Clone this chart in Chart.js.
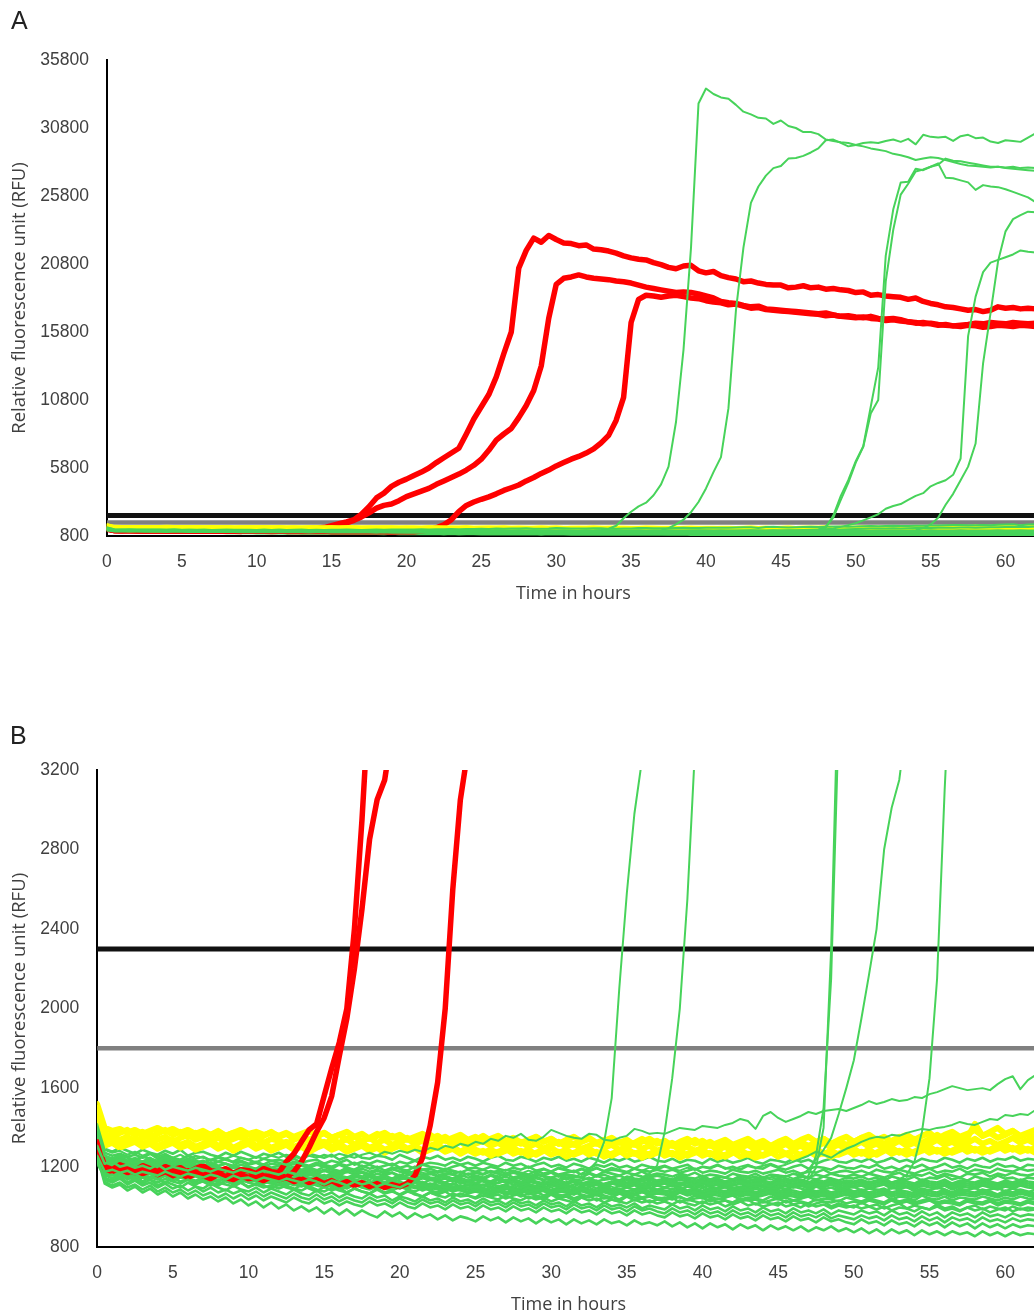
<!DOCTYPE html>
<html><head><meta charset="utf-8">
<script src="https://cdn.jsdelivr.net/npm/chart.js@4/dist/chart.umd.min.js"></script>
<style>
html,body{margin:0;padding:0;background:#fff;overflow:hidden;width:1034px;height:1316px;position:relative;}
canvas{position:absolute;left:0;}
.lbl{position:absolute;font-family:"Liberation Sans",Arial,sans-serif;font-size:25px;color:#222;line-height:1;}
</style></head><body>
<canvas id="cA" width="1050" height="610" style="top:0px"></canvas>
<canvas id="cB" width="1050" height="616" style="top:700px"></canvas>
<div class="lbl" style="left:11px;top:8px">A</div>
<div class="lbl" style="left:10px;top:723px">B</div>
<script>
// ---- time axis (hours) ----
const hours = [0,0.5,1,1.5,2,2.5,3,3.5,4,4.5,5,5.5,6,6.5,7,7.5,8,8.5,9,9.5,10,10.5,11,11.5,12,
12.5,13,13.5,14,14.5,15,15.5,16,16.5,17,17.5,18,18.5,19,19.5,20,20.5,21,21.5,22,22.5,23,23.5,24,24.5,
25,25.5,26,26.5,27,27.5,28,28.5,29,29.5,30,30.5,31,31.5,32,32.5,33,33.5,34,34.5,35,35.5,36,36.5,37,
37.5,38,38.5,39,39.5,40,40.5,41,41.5,42,42.5,43,43.5,44,44.5,45,45.5,46,46.5,47,47.5,48,48.5,49,49.5,
50,50.5,51,51.5,52,52.5,53,53.5,54,54.5,55,55.5,56,56.5,57,57.5,58,58.5,59,59.5,60,60.5,61,61.5,62];

// ---- thresholds ----
const thresholdBlack = 2300;
const thresholdGray = 1800;

// ---- red series ----
const red1 = [1330,1205,1190,1215,1200,1185,1210,1195,1180,1205,1190,1200,1175,1195,1210,1185,1180,1195,1170,1190,1185,1170,1195,1180,1175,
1230,1270,1330,1390,1420,1560,1700,1830,2000,2400,2950,3600,3950,4450,4750,4980,5250,5500,5800,6200,6550,6900,7250,8300,9400,
10300,11200,12500,14200,15800,20500,21800,22700,22400,22900,22600,22350,22300,22150,22200,21900,21850,21750,21600,21400,21250,21150,21100,20900,20750,
20550,20450,20650,20700,20300,20150,20250,19950,19800,19700,19500,19550,19400,19300,19250,19250,19050,19100,19200,19050,19100,18950,19000,18900,18850,
18700,18750,18500,18550,18450,18400,18350,18200,18300,18050,17900,17800,17650,17600,17500,17400,17450,17300,17400,17650,17550,17600,17500,17550,17500];
const red2 = [1300,1195,1180,1200,1190,1175,1195,1185,1170,1190,1180,1165,1185,1175,1160,1180,1170,1155,1175,1165,1150,1170,1160,1155,1165,
1150,1180,1230,1300,1380,1450,1560,1760,1950,2200,2500,2850,3050,3150,3400,3700,3900,4100,4300,4600,4850,5100,5350,5650,6000,
6450,7100,7850,8300,8700,9500,10400,11500,13300,16800,19300,19750,19850,20000,19850,19750,19700,19650,19550,19500,19400,19250,19100,19000,18900,
18800,18700,18750,18700,18600,18450,18300,18050,17950,17900,17750,17650,17700,17500,17450,17400,17350,17300,17250,17200,17150,17200,17050,16950,17000,
16900,16850,16950,16800,16750,16800,16700,16550,16450,16500,16400,16300,16350,16250,16300,16350,16450,16400,16500,16450,16400,16500,16450,16400,16450];
const red3 = [1320,1200,1185,1195,1175,1190,1170,1185,1165,1180,1160,1175,1150,1170,1160,1145,1165,1150,1140,1160,1145,1150,1135,1155,1140,
1150,1130,1145,1125,1140,1120,1135,1115,1130,1110,1125,1105,1120,1100,1115,1105,1120,1160,1250,1410,1630,2000,2600,3050,3300,
3500,3680,3900,4150,4350,4550,4850,5100,5400,5650,5950,6200,6450,6650,6900,7200,7650,8200,9300,11000,16500,18200,18500,18450,18350,
18450,18500,18400,18300,18250,18100,18000,17950,17800,17850,17700,17550,17600,17450,17400,17350,17300,17250,17200,17150,17100,17000,17050,16950,16900,
16850,16900,16800,16750,16650,16700,16600,16550,16500,16400,16450,16350,16300,16250,16200,16300,16250,16150,16200,16300,16250,16200,16300,16250,16200];

// ---- yellow series ----
const yellow1 = [1520,1400,1385,1395,1375,1390,1370,1385,1400,1380,1395,1375,1390,1370,1385,1365,1380,1360,1375,1390,1370,1380,1365,1375,1360,
1375,1355,1370,1385,1360,1375,1350,1365,1380,1355,1370,1345,1360,1375,1350,1365,1340,1355,1370,1345,1360,1335,1350,1365,1340,
1355,1330,1345,1360,1335,1350,1325,1340,1355,1330,1345,1320,1340,1355,1330,1345,1320,1335,1350,1325,1340,1315,1330,1345,1320,
1335,1310,1330,1345,1320,1335,1310,1325,1340,1315,1330,1345,1320,1335,1310,1330,1345,1320,1340,1355,1330,1345,1320,1340,1355,
1330,1350,1365,1340,1355,1330,1350,1365,1340,1360,1375,1345,1365,1380,1355,1370,1390,1360,1380,1400,1370,1385,1360,1375,1390];
const yellow2 = [1480,1345,1360,1340,1355,1335,1350,1365,1340,1355,1330,1350,1365,1340,1355,1335,1350,1330,1345,1360,1335,1350,1325,1345,1335,
1320,1340,1355,1330,1345,1320,1340,1325,1345,1315,1335,1350,1325,1340,1315,1330,1345,1320,1335,1310,1325,1340,1315,1330,1305,
1320,1335,1310,1325,1300,1315,1330,1305,1320,1295,1315,1330,1305,1320,1295,1310,1325,1300,1315,1290,1305,1320,1295,1310,1285,
1300,1315,1290,1305,1285,1300,1315,1290,1305,1280,1300,1315,1290,1305,1285,1300,1320,1295,1310,1290,1305,1325,1300,1315,1295,
1310,1330,1305,1320,1300,1315,1335,1310,1325,1305,1320,1340,1315,1330,1310,1325,1345,1320,1335,1315,1330,1350,1325,1340,1320];
const yellow3 = [1450,1320,1335,1315,1330,1345,1320,1335,1310,1325,1340,1315,1330,1305,1320,1335,1310,1325,1300,1320,1335,1310,1325,1300,1315,
1330,1305,1320,1295,1315,1330,1305,1320,1295,1310,1325,1300,1315,1290,1305,1320,1295,1310,1285,1300,1315,1290,1305,1280,1300,
1290,1275,1290,1270,1285,1300,1275,1290,1265,1285,1300,1275,1290,1265,1280,1295,1270,1285,1260,1280,1295,1270,1285,1260,1275,
1290,1265,1280,1260,1275,1290,1265,1280,1255,1275,1290,1265,1280,1260,1275,1290,1270,1285,1260,1280,1295,1270,1285,1265,1280,
1295,1270,1290,1265,1285,1300,1275,1290,1270,1285,1305,1280,1295,1275,1290,1310,1285,1300,1280,1295,1315,1290,1305,1285,1300];
const yellow4 = [1500,1370,1355,1375,1390,1365,1380,1355,1370,1390,1365,1380,1355,1375,1350,1365,1385,1360,1375,1350,1370,1345,1360,1380,1355,
1370,1345,1360,1340,1355,1375,1350,1365,1340,1355,1335,1350,1370,1345,1360,1335,1350,1330,1345,1365,1340,1355,1330,1345,1325,
1340,1360,1335,1350,1325,1340,1320,1335,1355,1330,1345,1320,1335,1315,1330,1350,1325,1340,1315,1330,1310,1325,1345,1320,1335,
1310,1325,1305,1320,1340,1315,1330,1305,1320,1300,1315,1335,1310,1325,1300,1320,1340,1315,1330,1310,1325,1345,1320,1335,1315,
1330,1350,1325,1340,1320,1335,1355,1330,1345,1325,1345,1365,1340,1355,1335,1350,1420,1360,1375,1350,1365,1385,1355,1370,1350];
const yellow5 = [1420,1310,1325,1300,1315,1330,1305,1320,1295,1310,1325,1300,1315,1290,1305,1320,1295,1310,1285,1305,1320,1295,1310,1285,1300,
1315,1290,1305,1280,1300,1315,1290,1305,1280,1295,1310,1285,1300,1275,1295,1310,1285,1300,1275,1290,1305,1280,1295,1270,1290,
1270,1285,1260,1280,1295,1270,1285,1260,1275,1290,1265,1280,1255,1275,1290,1265,1280,1255,1270,1285,1260,1275,1250,1270,1285,
1260,1275,1250,1270,1285,1260,1275,1250,1265,1280,1255,1270,1250,1265,1280,1255,1270,1250,1265,1285,1260,1275,1255,1270,1290,
1265,1280,1260,1275,1295,1270,1285,1265,1280,1300,1275,1290,1270,1285,1305,1280,1295,1275,1290,1310,1285,1300,1280,1295,1275];

// ---- green positive / rising series ----
const greenPos1 = [1380,1250,1235,1240,1225,1230,1215,1225,1210,1220,1205,1215,1200,1210,1190,1205,1195,1185,1200,1180,1190,1175,1185,1170,1180,
1165,1180,1160,1170,1155,1165,1150,1160,1145,1155,1150,1140,1155,1145,1135,1150,1140,1130,1145,1135,1140,1125,1140,1130,1135,
1125,1140,1130,1120,1135,1125,1140,1130,1145,1135,1150,1140,1160,1150,1170,1190,1230,1330,1550,2100,2580,2980,3250,3800,4600,
5900,9200,14500,22000,32600,33700,33300,33050,32950,32500,32000,31800,31550,31500,31100,31350,30950,30800,30500,30500,30350,29950,29850,29750,29700,
29550,29450,29300,29200,29100,28900,28800,28650,28450,28550,28650,28600,28450,28300,28150,28050,28000,27950,27900,27950,27850,27800,27750,27700,27650];
const greenPos2 = [1350,1230,1215,1225,1205,1215,1195,1210,1190,1200,1185,1195,1175,1190,1170,1180,1165,1175,1160,1170,1155,1165,1150,1160,1145,
1155,1140,1150,1135,1145,1130,1140,1125,1135,1120,1130,1115,1130,1120,1110,1125,1115,1105,1120,1110,1100,1115,1105,1110,1100,
1110,1100,1115,1105,1095,1110,1100,1115,1105,1095,1110,1100,1115,1105,1120,1110,1125,1115,1130,1120,1135,1130,1150,1170,1210,
1380,1650,2000,2550,3300,4300,5500,6600,10200,17400,22000,25300,26500,27300,27850,28000,28550,28600,28750,29000,29300,29900,29950,29700,29450,
29550,29700,29750,29700,29850,29950,29780,30000,29600,30300,30150,30100,30150,29850,30200,30300,30050,30100,29800,29700,29900,29850,29780,30100,30400];
const greenPos3 = [1330,1215,1200,1210,1190,1200,1180,1195,1175,1185,1165,1180,1160,1170,1155,1165,1150,1160,1145,1155,1140,1150,1135,1145,1140,
1130,1145,1125,1135,1120,1130,1115,1125,1110,1120,1105,1115,1100,1110,1095,1105,1115,1100,1090,1105,1095,1085,1100,1090,1080,
1095,1085,1075,1090,1080,1070,1085,1075,1090,1080,1070,1085,1075,1065,1080,1070,1085,1075,1065,1080,1070,1060,1075,1065,1080,
1070,1060,1075,1065,1080,1070,1060,1075,1085,1070,1090,1080,1095,1085,1100,1090,1110,1100,1120,1140,1200,1400,2300,3750,4900,
6300,7400,10300,13200,21400,24800,26800,26850,27800,27700,27950,28200,27150,27100,26950,26800,26250,26600,26500,26450,26300,26100,25900,25700,25350];
const greenPos4 = [1360,1240,1225,1230,1215,1225,1205,1215,1200,1210,1190,1200,1185,1195,1175,1190,1170,1180,1165,1175,1160,1170,1155,1165,1150,
1160,1145,1155,1140,1150,1135,1145,1130,1140,1125,1135,1120,1130,1115,1125,1110,1120,1105,1115,1100,1110,1095,1105,1090,1100,
1085,1095,1080,1090,1075,1085,1095,1080,1070,1085,1075,1090,1080,1070,1085,1075,1065,1080,1070,1085,1075,1065,1080,1070,1085,
1075,1090,1080,1070,1085,1095,1080,1090,1100,1085,1095,1105,1090,1100,1110,1100,1115,1105,1125,1160,1260,1500,2150,3450,4700,
6200,7350,9800,10800,19500,23300,25900,26700,27600,27750,27950,28100,28550,28400,28350,28250,28150,28050,27950,27950,27900,27950,27850,27900,27850];
const greenPos5 = [1340,1225,1210,1220,1200,1210,1190,1205,1185,1195,1175,1190,1170,1180,1165,1175,1160,1170,1155,1165,1150,1160,1145,1155,1140,
1150,1135,1145,1130,1140,1125,1135,1120,1130,1140,1125,1135,1120,1130,1115,1125,1110,1120,1130,1115,1125,1110,1120,1105,1115,
1125,1110,1120,1105,1115,1125,1110,1120,1105,1115,1125,1110,1120,1130,1115,1125,1110,1120,1130,1115,1125,1135,1120,1130,1115,
1125,1135,1120,1130,1140,1125,1135,1145,1130,1140,1150,1135,1145,1155,1140,1150,1160,1145,1160,1190,1240,1290,1350,1470,1600,
1740,1950,2170,2400,2800,3010,3150,3450,3750,3950,4450,4700,4900,5300,6500,15500,18400,20200,20900,21100,21300,21500,21800,21700,21650];
const greenPos6 = [1300,1200,1185,1195,1175,1185,1165,1180,1160,1170,1150,1165,1145,1155,1140,1150,1135,1145,1130,1140,1125,1135,1120,1130,1115,
1125,1110,1120,1105,1115,1100,1110,1095,1105,1115,1100,1110,1095,1105,1090,1100,1110,1095,1105,1090,1100,1085,1095,1105,1090,
1100,1085,1095,1080,1090,1100,1085,1095,1080,1090,1100,1085,1095,1105,1090,1100,1085,1095,1105,1090,1100,1110,1095,1105,1090,
1100,1110,1095,1105,1115,1100,1110,1095,1105,1115,1100,1110,1120,1105,1115,1100,1110,1120,1105,1115,1125,1110,1120,1130,1115,
1125,1135,1120,1130,1140,1125,1140,1165,1230,1380,1650,2150,3100,3900,4900,5900,7600,13500,17200,21000,23200,24100,24400,24650,24600];
const greenSlow1 = [1420,1290,1275,1285,1265,1280,1260,1275,1255,1270,1250,1265,1245,1260,1250,1240,1255,1245,1260,1250,1240,1255,1245,1260,1250,
1265,1255,1245,1260,1250,1265,1255,1270,1260,1250,1265,1275,1260,1280,1270,1285,1275,1290,1280,1300,1290,1310,1300,1320,1310,
1330,1320,1345,1335,1360,1350,1370,1340,1335,1355,1390,1375,1360,1350,1345,1370,1365,1340,1335,1350,1360,1395,1385,1370,1375,
1370,1385,1400,1395,1390,1410,1405,1400,1415,1425,1445,1435,1395,1460,1480,1450,1430,1445,1460,1480,1470,1485,1490,1495,1485,
1500,1515,1535,1520,1530,1545,1535,1540,1555,1550,1570,1580,1595,1610,1600,1590,1595,1600,1590,1620,1645,1660,1595,1640,1665];
const greenSlow2 = [1380,1260,1245,1255,1235,1250,1230,1245,1225,1240,1220,1235,1215,1230,1210,1225,1205,1220,1200,1215,1205,1195,1210,1200,1190,
1205,1195,1185,1200,1190,1180,1195,1185,1175,1190,1180,1170,1185,1175,1190,1180,1170,1185,1175,1165,1180,1170,1185,1175,1165,
1180,1170,1185,1175,1190,1180,1170,1185,1175,1190,1180,1195,1185,1175,1190,1180,1195,1185,1200,1190,1180,1195,1185,1200,1190,
1205,1195,1185,1200,1190,1205,1195,1210,1200,1190,1205,1215,1200,1210,1220,1205,1215,1230,1245,1260,1280,1265,1250,1275,1295,
1310,1330,1345,1355,1350,1365,1360,1375,1385,1395,1390,1400,1405,1415,1430,1420,1415,1430,1445,1440,1465,1460,1470,1465,1490];

// ---- green negative series ----
const neg01 = [1450,1295,1280,1300,1285,1270,1290,1275,1265,1285,1270,1290,1260,1275,1280,1265,1255,1275,1260,1280,1265,1250,1270,1260,1275,
1255,1265,1245,1270,1260,1250,1265,1240,1255,1270,1250,1245,1260,1255,1240,1265,1250,1235,1255,1245,1260,1240,1250,1235,1255,
1245,1230,1250,1260,1240,1235,1255,1245,1230,1250,1240,1255,1235,1245,1230,1250,1240,1225,1245,1235,1250,1230,1240,1255,1235,
1230,1245,1225,1240,1235,1220,1245,1230,1240,1225,1235,1250,1230,1220,1240,1235,1225,1245,1230,1240,1220,1235,1245,1230,1225,
1240,1230,1245,1225,1235,1250,1230,1240,1225,1245,1235,1230,1250,1240,1225,1245,1235,1250,1230,1245,1240,1255,1235,1245,1240];
const neg02 = [1420,1275,1260,1270,1255,1265,1250,1270,1245,1260,1250,1240,1260,1245,1255,1235,1250,1240,1230,1250,1240,1225,1245,1235,1240,
1230,1245,1225,1235,1240,1220,1235,1225,1240,1215,1230,1220,1235,1225,1210,1230,1220,1235,1215,1225,1220,1210,1230,1215,1225,
1210,1225,1215,1205,1225,1210,1220,1200,1215,1225,1205,1215,1200,1220,1210,1195,1215,1205,1220,1200,1210,1195,1215,1205,1200,
1210,1195,1205,1215,1190,1205,1200,1215,1195,1205,1190,1210,1200,1195,1215,1200,1190,1205,1215,1195,1205,1200,1190,1210,1200,
1195,1210,1200,1215,1195,1205,1190,1210,1200,1215,1195,1205,1220,1200,1210,1195,1215,1205,1200,1220,1205,1210,1195,1215,1210];
const neg03 = [1400,1260,1245,1265,1250,1240,1255,1245,1235,1250,1240,1230,1245,1235,1225,1240,1230,1245,1225,1235,1220,1230,1215,1235,1225,
1215,1230,1220,1210,1225,1215,1205,1220,1210,1225,1205,1215,1200,1210,1220,1200,1210,1195,1215,1205,1200,1190,1205,1215,1195,
1200,1190,1205,1195,1185,1200,1190,1205,1185,1195,1180,1200,1190,1180,1195,1185,1200,1180,1190,1185,1175,1195,1185,1180,1190,
1180,1190,1175,1185,1195,1175,1185,1180,1170,1190,1180,1175,1185,1170,1180,1190,1175,1185,1170,1180,1175,1190,1170,1180,1185,
1175,1185,1170,1190,1180,1175,1190,1180,1170,1185,1195,1175,1185,1180,1195,1175,1190,1185,1175,1195,1185,1180,1195,1185,1190];
const neg04 = [1380,1250,1240,1255,1235,1245,1230,1250,1225,1240,1230,1220,1240,1225,1235,1215,1230,1220,1210,1230,1215,1225,1205,1220,1215,
1205,1220,1210,1200,1215,1205,1195,1215,1200,1190,1210,1195,1205,1185,1200,1195,1185,1205,1190,1195,1180,1195,1185,1175,1190,
1180,1190,1175,1185,1170,1185,1175,1165,1185,1170,1180,1165,1175,1185,1165,1175,1160,1180,1170,1160,1175,1165,1180,1160,1170,
1165,1155,1170,1160,1175,1155,1165,1160,1150,1170,1160,1155,1170,1150,1165,1160,1155,1170,1160,1150,1165,1155,1170,1160,1155,
1165,1155,1170,1160,1150,1165,1175,1155,1165,1160,1175,1155,1170,1160,1150,1170,1165,1175,1155,1170,1160,1175,1165,1160,1170];
const neg05 = [1360,1240,1230,1245,1225,1235,1220,1240,1215,1230,1220,1210,1230,1215,1205,1225,1210,1220,1200,1215,1205,1195,1215,1200,1210,
1195,1205,1190,1200,1185,1205,1190,1180,1200,1185,1195,1180,1190,1175,1195,1180,1185,1170,1190,1180,1175,1185,1170,1180,1165,
1175,1165,1180,1170,1160,1175,1165,1155,1170,1160,1175,1155,1165,1160,1150,1170,1155,1165,1150,1160,1145,1165,1155,1150,1160,
1150,1140,1160,1150,1145,1160,1140,1155,1150,1140,1160,1145,1155,1140,1150,1160,1145,1135,1155,1150,1140,1155,1145,1135,1150,
1145,1155,1140,1150,1135,1155,1145,1140,1155,1135,1150,1145,1160,1140,1150,1135,1155,1145,1140,1160,1145,1150,1135,1150,1145];
const neg06 = [1340,1235,1220,1230,1215,1225,1210,1230,1205,1220,1210,1200,1220,1205,1195,1215,1200,1190,1210,1195,1200,1185,1205,1190,1195,
1185,1195,1180,1190,1175,1190,1180,1170,1190,1175,1180,1165,1185,1170,1175,1160,1180,1170,1165,1175,1160,1170,1165,1155,1170,
1160,1150,1165,1155,1170,1150,1160,1145,1165,1155,1150,1160,1140,1155,1150,1140,1160,1145,1150,1135,1155,1145,1140,1150,1135,
1145,1135,1150,1140,1130,1150,1135,1145,1130,1140,1150,1130,1140,1135,1125,1145,1135,1130,1140,1125,1140,1130,1145,1125,1135,
1130,1140,1125,1135,1145,1125,1135,1130,1120,1140,1130,1125,1140,1120,1135,1130,1125,1140,1130,1120,1135,1125,1140,1130,1125];
const neg07 = [1320,1225,1210,1220,1205,1215,1200,1220,1195,1210,1200,1190,1210,1195,1185,1205,1190,1180,1200,1185,1190,1175,1195,1180,1185,
1175,1190,1170,1180,1165,1185,1170,1160,1180,1165,1175,1155,1170,1160,1175,1150,1165,1160,1150,1170,1155,1160,1145,1165,1150,
1155,1140,1160,1145,1155,1140,1150,1135,1155,1140,1145,1130,1150,1140,1135,1150,1130,1140,1145,1125,1145,1135,1130,1140,1125,
1135,1125,1140,1130,1120,1140,1125,1135,1120,1130,1140,1120,1130,1125,1115,1135,1125,1120,1130,1115,1130,1120,1135,1115,1125,
1120,1130,1115,1125,1135,1115,1125,1120,1110,1130,1120,1115,1130,1110,1125,1120,1115,1130,1120,1110,1125,1115,1130,1120,1115];
const neg08 = [1310,1220,1230,1205,1215,1200,1210,1195,1215,1190,1205,1195,1185,1200,1190,1180,1195,1185,1175,1190,1180,1170,1185,1175,1165,
1180,1170,1160,1175,1165,1155,1170,1160,1150,1165,1155,1170,1150,1160,1145,1165,1150,1140,1160,1150,1145,1155,1140,1150,1135,
1150,1140,1130,1150,1135,1145,1125,1140,1130,1120,1140,1130,1125,1140,1120,1130,1135,1115,1130,1125,1120,1135,1115,1125,1120,
1130,1115,1125,1120,1110,1130,1115,1125,1110,1120,1130,1110,1120,1115,1105,1125,1115,1110,1120,1105,1120,1110,1125,1105,1115,
1110,1120,1105,1115,1125,1105,1115,1110,1100,1120,1110,1105,1120,1100,1115,1110,1105,1120,1110,1100,1115,1105,1120,1110,1105];
const neg09 = [1300,1215,1200,1210,1195,1205,1185,1200,1190,1180,1195,1185,1175,1190,1180,1170,1185,1175,1165,1180,1170,1160,1175,1165,1155,
1170,1160,1150,1165,1155,1145,1160,1150,1140,1155,1145,1160,1140,1150,1135,1155,1140,1130,1150,1140,1135,1145,1130,1140,1125,
1140,1130,1120,1140,1125,1135,1115,1130,1120,1110,1130,1120,1115,1130,1110,1120,1125,1105,1120,1115,1110,1125,1105,1115,1110,
1120,1105,1115,1110,1100,1120,1105,1115,1100,1110,1120,1100,1110,1105,1095,1115,1105,1100,1110,1095,1110,1100,1115,1095,1105,
1100,1110,1095,1105,1115,1095,1105,1100,1090,1110,1100,1095,1110,1090,1105,1100,1095,1110,1100,1090,1105,1095,1110,1100,1095];
const neg10 = [1290,1205,1215,1190,1200,1210,1185,1195,1180,1200,1175,1190,1180,1165,1185,1170,1180,1160,1175,1165,1155,1175,1160,1150,1165,
1155,1145,1165,1150,1140,1160,1145,1135,1150,1140,1130,1155,1135,1145,1125,1140,1150,1130,1120,1140,1130,1125,1145,1120,1130,
1120,1135,1115,1125,1140,1110,1125,1115,1105,1130,1110,1120,1100,1115,1125,1105,1115,1095,1120,1110,1100,1115,1105,1095,1110,
1100,1115,1090,1105,1095,1110,1085,1100,1115,1095,1105,1090,1100,1110,1085,1100,1090,1105,1095,1085,1105,1090,1100,1085,1095,
1105,1085,1095,1090,1080,1100,1090,1105,1080,1095,1085,1100,1090,1075,1095,1085,1100,1080,1090,1100,1080,1095,1085,1075,1090];
const neg11 = [1280,1190,1200,1210,1185,1195,1175,1190,1200,1170,1185,1175,1165,1185,1160,1175,1165,1155,1175,1160,1150,1170,1155,1145,1160,
1150,1140,1160,1135,1150,1140,1130,1150,1125,1140,1130,1120,1145,1125,1135,1115,1130,1140,1120,1110,1130,1120,1115,1135,1110,
1120,1110,1125,1105,1115,1130,1100,1115,1105,1095,1120,1100,1110,1095,1105,1115,1095,1105,1090,1110,1100,1090,1105,1095,1085,
1100,1090,1105,1085,1095,1080,1100,1090,1080,1100,1085,1095,1075,1090,1100,1080,1090,1085,1075,1095,1080,1090,1075,1085,1095,
1080,1090,1075,1085,1095,1075,1085,1080,1070,1090,1080,1075,1090,1070,1085,1080,1075,1090,1080,1065,1085,1075,1090,1080,1070];
const neg12 = [1270,1195,1180,1190,1170,1185,1175,1195,1165,1180,1170,1160,1175,1165,1150,1170,1160,1145,1165,1150,1160,1140,1155,1145,1135,
1150,1140,1130,1145,1135,1125,1145,1130,1120,1140,1125,1115,1135,1120,1110,1130,1115,1125,1105,1120,1110,1100,1120,1105,1115,
1100,1115,1105,1095,1110,1100,1090,1110,1095,1105,1085,1100,1095,1085,1105,1090,1080,1100,1085,1095,1080,1090,1100,1080,1090,
1085,1075,1095,1080,1090,1070,1085,1080,1070,1090,1075,1085,1070,1080,1090,1070,1080,1075,1065,1085,1070,1080,1065,1075,1085,
1070,1080,1065,1075,1085,1065,1075,1070,1060,1080,1070,1065,1080,1060,1075,1070,1065,1080,1070,1060,1075,1065,1080,1070,1060];
const neg13 = [1260,1180,1190,1175,1185,1165,1180,1170,1160,1180,1165,1155,1170,1160,1150,1165,1155,1140,1160,1145,1150,1135,1150,1140,1130,
1145,1135,1125,1140,1130,1115,1135,1125,1110,1130,1115,1125,1105,1120,1110,1100,1120,1105,1115,1095,1110,1100,1090,1110,1095,
1105,1090,1100,1085,1100,1090,1080,1100,1085,1095,1075,1090,1085,1075,1095,1080,1070,1090,1075,1085,1070,1080,1090,1070,1080,
1075,1065,1085,1070,1080,1060,1075,1070,1060,1080,1065,1075,1060,1070,1080,1060,1070,1065,1055,1075,1060,1070,1055,1065,1075,
1060,1070,1055,1065,1075,1055,1065,1060,1050,1070,1060,1055,1070,1050,1065,1060,1055,1070,1060,1050,1065,1055,1070,1060,1050];
const neg14 = [1250,1175,1185,1165,1180,1160,1170,1185,1155,1165,1150,1170,1145,1160,1150,1140,1155,1145,1135,1150,1130,1145,1135,1125,1140,
1130,1120,1140,1125,1115,1130,1110,1125,1115,1105,1125,1110,1100,1120,1105,1095,1115,1100,1110,1090,1105,1095,1085,1100,1090,
1080,1095,1085,1075,1095,1080,1070,1090,1075,1085,1065,1080,1075,1065,1085,1070,1060,1080,1065,1075,1060,1070,1080,1060,1070,
1065,1055,1075,1060,1070,1050,1065,1060,1050,1070,1055,1065,1050,1060,1070,1050,1060,1055,1045,1065,1050,1060,1045,1055,1065,
1050,1060,1045,1055,1065,1040,1055,1050,1035,1060,1045,1040,1055,1035,1050,1045,1040,1055,1045,1035,1050,1040,1055,1045,1040];
const neg15 = [1330,1170,1160,1175,1155,1165,1150,1170,1145,1160,1140,1155,1145,1135,1150,1140,1130,1145,1135,1125,1140,1130,1120,1135,1125,
1115,1130,1120,1110,1125,1105,1120,1110,1100,1120,1105,1095,1115,1100,1090,1110,1095,1105,1085,1100,1090,1080,1095,1085,1075,
1090,1080,1070,1085,1075,1065,1085,1070,1080,1060,1075,1065,1055,1075,1065,1055,1070,1060,1050,1070,1055,1065,1050,1060,1050,
1045,1060,1050,1040,1060,1045,1055,1040,1050,1060,1040,1050,1045,1035,1055,1040,1050,1035,1045,1055,1035,1045,1040,1030,1050,
1040,1030,1045,1035,1025,1045,1030,1040,1025,1035,1045,1025,1035,1030,1020,1040,1030,1025,1040,1020,1035,1030,1020,1035,1025];
const neg16 = [1240,1160,1175,1150,1165,1145,1160,1150,1140,1160,1135,1150,1140,1130,1145,1125,1140,1130,1120,1140,1125,1115,1130,1120,1110,
1125,1115,1105,1125,1110,1100,1115,1105,1095,1115,1100,1090,1105,1095,1085,1105,1090,1080,1100,1085,1075,1095,1080,1090,1070,
1080,1070,1060,1080,1065,1075,1055,1070,1060,1050,1070,1055,1065,1045,1060,1050,1065,1045,1055,1040,1060,1050,1045,1055,1040,
1050,1040,1055,1035,1045,1050,1030,1045,1035,1025,1045,1035,1040,1025,1035,1045,1025,1035,1030,1020,1040,1030,1025,1035,1020,
1030,1020,1035,1025,1015,1035,1020,1030,1015,1025,1035,1015,1025,1020,1010,1030,1020,1015,1030,1010,1025,1020,1010,1025,1015];
const neg17 = [1230,1165,1145,1170,1140,1160,1130,1155,1145,1125,1150,1130,1140,1115,1135,1125,1110,1135,1115,1125,1100,1120,1110,1095,1115,
1100,1090,1115,1095,1080,1105,1085,1100,1075,1095,1080,1070,1095,1075,1085,1060,1080,1070,1055,1075,1065,1080,1055,1070,1060,
1050,1075,1055,1065,1045,1060,1070,1045,1055,1040,1065,1045,1055,1035,1050,1060,1035,1050,1040,1030,1055,1035,1045,1025,1040,
1035,1050,1025,1040,1030,1020,1045,1025,1035,1015,1030,1040,1015,1030,1020,1010,1035,1015,1025,1005,1020,1030,1005,1020,1010,
1000,1025,1005,1015,995,1010,1020,995,1010,1000,990,1015,995,1005,985,1000,1010,990,1005,995,985,1005,990,1000,995];
const neg18 = [1220,1155,1165,1145,1155,1135,1150,1140,1125,1145,1130,1120,1140,1120,1130,1110,1125,1115,1105,1125,1105,1115,1100,1110,1095,
1110,1095,1085,1105,1090,1080,1100,1085,1075,1095,1080,1070,1090,1070,1080,1065,1085,1065,1055,1075,1060,1050,1070,1055,1060,
1045,1060,1050,1040,1060,1045,1035,1055,1040,1050,1030,1045,1035,1025,1050,1035,1045,1025,1040,1030,1020,1040,1025,1035,1020,
1030,1015,1035,1020,1010,1030,1015,1025,1005,1020,1030,1010,1020,1005,1015,1025,1005,1015,1000,1020,1005,1015,995,1010,1000,
1010,995,1005,990,1005,985,1000,995,980,1000,990,1005,985,995,980,1000,985,995,975,990,1000,980,995,985,990];
const neg19 = [1280,1150,1135,1155,1125,1145,1120,1140,1110,1130,1115,1100,1125,1105,1095,1120,1100,1085,1110,1090,1080,1100,1075,1095,1080,
1065,1090,1070,1060,1085,1060,1075,1050,1070,1055,1045,1070,1050,1060,1035,1055,1045,1030,1055,1035,1045,1025,1050,1030,1040,
1020,1045,1025,1035,1015,1040,1020,1030,1010,1035,1015,1025,1005,1030,1010,1020,1000,1025,1005,1015,1000,1020,995,1010,1000,
990,1015,995,1005,985,1010,990,1000,980,1005,985,995,975,1000,980,990,970,995,975,985,970,990,965,985,975,
965,985,970,980,960,985,965,975,955,980,960,975,950,975,960,970,950,975,955,965,950,970,955,965,960];
const neg20 = [1300,1140,1125,1145,1115,1135,1110,1125,1100,1120,1095,1110,1085,1105,1080,1100,1075,1090,1070,1085,1060,1080,1055,1075,1060,
1045,1070,1050,1040,1065,1040,1055,1030,1050,1035,1025,1050,1030,1040,1020,1045,1025,1015,1040,1020,1030,1010,1035,1015,1025,
1005,1030,1010,1020,1000,1025,1005,1015,995,1020,1000,1010,990,1015,995,1005,985,1010,990,1000,980,1005,985,995,980,
970,995,975,985,965,990,970,980,960,985,965,975,955,980,960,970,950,975,955,965,950,970,945,960,950,
940,960,945,955,935,960,940,950,930,955,935,950,925,950,935,945,925,950,930,940,925,945,930,940,935];
const neg21 = [1290,1130,1110,1125,1100,1115,1090,1110,1080,1100,1075,1090,1065,1085,1060,1075,1050,1070,1045,1065,1040,1060,1035,1055,1040,
1025,1050,1030,1020,1045,1020,1035,1010,1030,1015,1005,1030,1010,1020,1000,1025,1005,995,1020,1000,1010,990,1015,995,1005,
985,1010,990,1000,980,1005,985,995,975,1000,980,990,970,995,975,985,965,990,970,980,960,985,965,975,960,
950,975,955,965,945,970,950,960,940,965,945,955,935,960,940,950,930,955,935,945,925,950,930,940,925,
915,940,920,930,910,935,915,925,905,930,910,925,900,925,905,920,895,920,900,915,895,915,900,910,905];
const neg22 = [1260,1120,1100,1115,1085,1105,1075,1095,1065,1085,1055,1075,1045,1065,1040,1055,1030,1050,1020,1040,1010,1030,1000,1025,995,
1015,985,1005,980,1000,970,995,965,990,960,985,965,950,980,955,975,945,970,950,965,940,960,935,955,945,
930,955,935,950,925,950,930,945,920,945,925,940,915,940,920,935,915,940,920,930,910,935,915,925,910,
930,905,925,900,920,895,920,900,915,890,915,895,910,885,910,890,905,885,905,880,900,885,905,880,895,
875,895,870,890,865,890,870,885,860,885,865,880,860,880,865,875,855,880,860,875,855,875,860,870,865];

const redSeries = [red1, red2, red3];
const yellowSeries = [yellow1, yellow2, yellow3, yellow4, yellow5];
const greenPosSeries = [greenPos1, greenPos2, greenPos3, greenPos4, greenPos5, greenPos6, greenSlow1, greenSlow2];
const greenNegSeries = [neg01,neg02,neg03,neg04,neg05,neg06,neg07,neg08,neg09,neg10,neg11,neg12,neg13,neg14,neg15,neg16,neg17,neg18,neg19,neg20,neg21,neg22];

// ---- styling (kept separate from data) ----
const COL = {red:'#FF0000', yellow:'#FFFF00', green:'#47D35A', black:'#111111', gray:'#808080'};
const X_MAX = 62.3;
const TICK_COLOR = '#404040';

function lineSet(vals, color, width, order) {
  return {
    data: hours.map((h, i) => ({x: h, y: vals[i]})),
    borderColor: color, backgroundColor: color, borderWidth: width,
    pointRadius: 0, pointHoverRadius: 0, tension: 0, fill: false,
    borderJoinStyle: 'round', borderCapStyle: 'round', order: order, clip: 0
  };
}
function hLine(v, color, width, order) {
  return {
    data: [{x: hours[0], y: v}, {x: X_MAX, y: v}],
    borderColor: color, backgroundColor: color, borderWidth: width,
    pointRadius: 0, pointHoverRadius: 0, fill: false, order: order, clip: 0
  };
}
// lower "order" = drawn later (on top)
function buildDatasets(redOrder) {
  const ds = [];
  ds.push(hLine(thresholdBlack, COL.black, 5, 60));
  ds.push(hLine(thresholdGray, COL.gray, 4.5, 60));
  yellowSeries.forEach(s => ds.push(lineSet(s, COL.yellow, 6, 25)));
  redSeries.forEach(s => ds.push(lineSet(s, COL.red, 5.5, redOrder)));
  greenNegSeries.forEach((s, i) => ds.push(lineSet(s, COL.green, 2.6, i % 5 === 2 ? 12 : 30)));
  greenPosSeries.forEach(s => ds.push(lineSet(s, COL.green, 2, 20)));
  return ds;
}

Chart.defaults.font.family = '"Liberation Sans", Arial, sans-serif';

function makeChart(id, yMin, yMax, yStep, padTop, padBottom, redOrder) {
  new Chart(document.getElementById(id), {
    type: 'line',
    data: {datasets: buildDatasets(redOrder)},
    options: {
      responsive: false, animation: false, devicePixelRatio: 1, events: [],
      layout: {padding: {top: padTop, right: 10, bottom: padBottom, left: 0}},
      plugins: {legend: {display: false}, tooltip: {enabled: false}},
      scales: {
        x: {
          type: 'linear', min: 0, max: X_MAX,
          grid: {display: false, drawTicks: true, tickLength: 11.5},
          border: {display: true, color: '#000', width: 2},
          ticks: {stepSize: 5, includeBounds: false, padding: 4, maxRotation: 0, autoSkip: false,
                  color: TICK_COLOR, font: {size: 17.5}, callback: v => String(v)},
          title: {display: true, text: 'Time in hours', color: TICK_COLOR,
                  font: {family: '"Open Sans", sans-serif', size: 18}, padding: {top: 6.7, bottom: 0}}
        },
        y: {
          type: 'linear', min: yMin, max: yMax,
          grid: {display: false, drawTicks: true, tickLength: 14},
          border: {display: true, color: '#000', width: 2},
          ticks: {stepSize: yStep, padding: 4, color: TICK_COLOR, font: {size: 17.5}, callback: v => String(v)},
          title: {display: true, text: 'Relative fluorescence unit (RFU)', color: TICK_COLOR,
                  font: {family: '"Open Sans", sans-serif', size: 18.5}, padding: {top: 9, bottom: 5}}
        }
      }
    }
  });
}

makeChart('cA', 800, 35800, 5000, 60, 5.2, 27);
makeChart('cB', 800, 3200, 400, 70, 0, 15);
</script>
</body></html>
